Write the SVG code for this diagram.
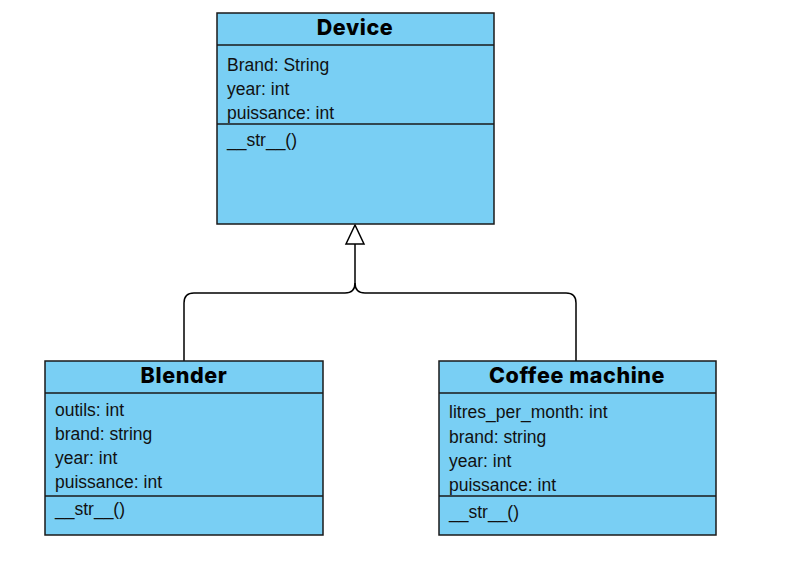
<svg xmlns="http://www.w3.org/2000/svg" width="787" height="572" viewBox="0 0 787 572">
<style>
.box{fill:#79cff4;stroke:#1a1a1a;stroke-width:1.5}
.ln{stroke:#1a1a1a;stroke-width:1.5}
.t{font-family:Inter,"Liberation Sans",sans-serif;font-weight:800;font-size:21.5px;letter-spacing:0.6px;text-anchor:middle;fill:#000}
.a{font-family:"Liberation Sans",Arial,sans-serif;font-size:17.5px;fill:#111}
.c{fill:none;stroke:#000;stroke-width:1.5}
</style>
<rect width="787" height="572" fill="#fff"/>
<g id="connectors">
<path class="c" d="M355,244 V283 Q355,293 345,293 H194 Q184,293 184,303 V361"/>
<path class="c" d="M355,283 Q355,293 365,293 H566 Q576,293 576,303 V361"/>
<polygon points="355,225 346,244 364,244" fill="#fff" stroke="#000" stroke-width="1.5"/>
</g>
<g id="device">
<rect class="box" x="217" y="13" width="277" height="211"/>
<line class="ln" x1="217" y1="45" x2="494" y2="45"/>
<line class="ln" x1="217" y1="124" x2="494" y2="124"/>
<text class="t" x="355" y="35">Device</text>
<text class="a" x="227" y="71">Brand: String</text>
<text class="a" x="227" y="95">year: int</text>
<text class="a" x="227" y="119">puissance: int</text>
<text class="a" x="227" y="146">__str__()</text>
</g>
<g id="blender">
<rect class="box" x="45" y="361" width="278" height="174"/>
<line class="ln" x1="45" y1="393" x2="323" y2="393"/>
<line class="ln" x1="45" y1="496" x2="323" y2="496"/>
<text class="t" x="184" y="383">Blender</text>
<text class="a" x="55" y="416">outils: int</text>
<text class="a" x="55" y="440">brand: string</text>
<text class="a" x="55" y="464">year: int</text>
<text class="a" x="55" y="488">puissance: int</text>
<text class="a" x="55" y="515">__str__()</text>
</g>
<g id="coffee">
<rect class="box" x="439" y="361" width="277" height="174"/>
<line class="ln" x1="439" y1="393" x2="716" y2="393"/>
<line class="ln" x1="439" y1="496" x2="716" y2="496"/>
<text class="t" x="577" y="383">Coffee machine</text>
<text class="a" x="449" y="418">litres_per_month: int</text>
<text class="a" x="449" y="443">brand: string</text>
<text class="a" x="449" y="467">year: int</text>
<text class="a" x="449" y="491">puissance: int</text>
<text class="a" x="449" y="518">__str__()</text>
</g>
</svg>
